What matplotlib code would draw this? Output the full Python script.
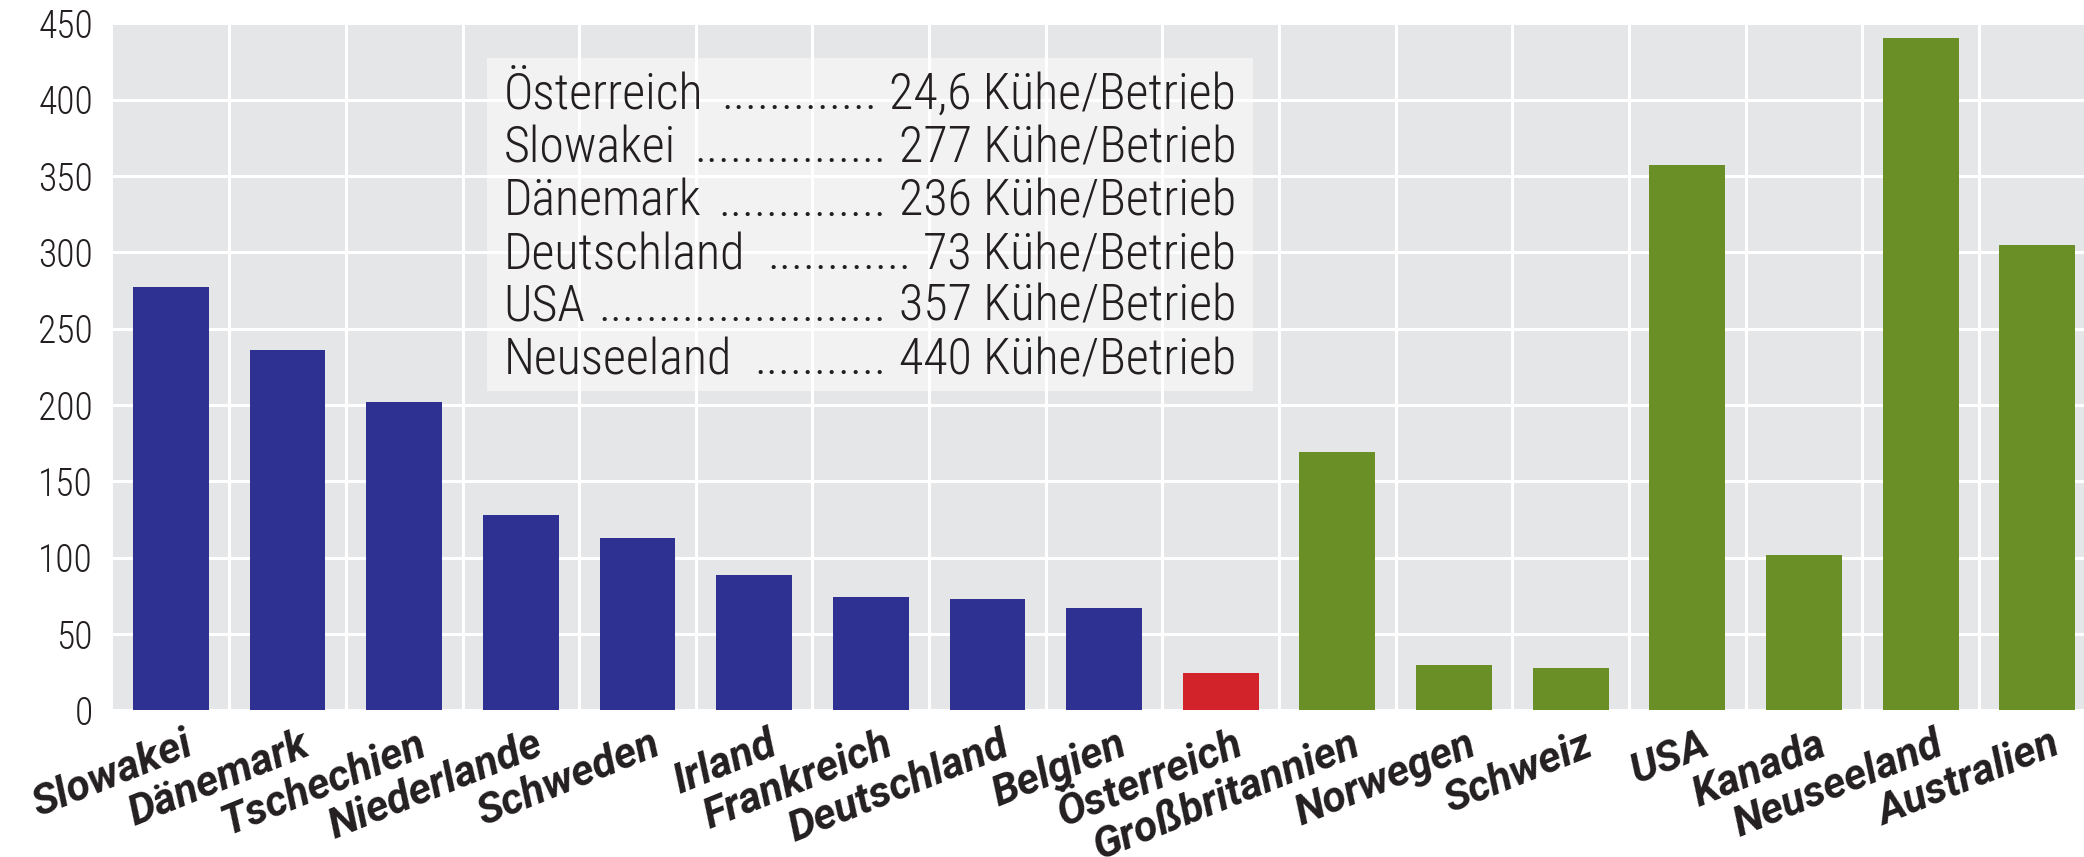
import matplotlib
matplotlib.use("Agg")
import matplotlib.pyplot as plt
from matplotlib.patches import Rectangle
import matplotlib.transforms as mtransforms

countries = ["Slowakei", "Dänemark", "Tschechien", "Niederlande", "Schweden", "Irland",
             "Frankreich", "Deutschland", "Belgien", "Österreich", "Großbritannien",
             "Norwegen", "Schweiz", "USA", "Kanada", "Neuseeland", "Australien"]
values = [277, 236, 202, 128, 113, 89, 74, 73, 67, 24.6, 169, 30, 28, 357, 102, 440, 305]
groups = ["eu"] * 9 + ["at"] + ["other"] * 7
yticks = [0, 50, 100, 150, 200, 250, 300, 350, 400, 450]

note_names = ["Österreich", "Slowakei", "Dänemark", "Deutschland", "USA", "Neuseeland"]
note_values = ["24,6 Kühe/Betrieb", "277 Kühe/Betrieb", "236 Kühe/Betrieb",
               "73 Kühe/Betrieb", "357 Kühe/Betrieb", "440 Kühe/Betrieb"]

colors = {"eu": "#2e3192", "at": "#d2232a", "other": "#6a8f27"}

LIGHT = ["Roboto Condensed", "Open Sans Condensed", "Roboto", "DejaVu Sans"]
BOLD = ["Roboto", "DejaVu Sans"]

fig = plt.figure(figsize=(20.84, 8.57), dpi=100)
ax = fig.add_axes([0.054, 0.171, 0.946, 0.802])
ax.set_facecolor("#e5e6e8")
for s in ax.spines.values():
    s.set_visible(False)

x = list(range(len(countries)))
ax.bar(x, values, width=0.65, color=[colors[g] for g in groups], zorder=3)

ax.set_xlim(-0.5, 16.4)
ax.set_ylim(0, 450)
ax.set_yticks(yticks)
ax.set_yticklabels([str(t) for t in yticks], fontsize=27, family=LIGHT, fontweight="light",
                   color="#231f20")
ax.set_xticks(x)
ax.set_xticks([i + 0.5 for i in range(len(countries) - 1)], minor=True)
ax.grid(True, which="major", axis="y", color="white", linewidth=2.2, zorder=1)
ax.grid(True, which="minor", axis="x", color="white", linewidth=2.2, zorder=1)
ax.tick_params(axis="both", which="both", length=0)
ax.tick_params(axis="y", pad=14)
ax.tick_params(axis="x", pad=10)
ax.set_axisbelow(True)

labels = ax.set_xticklabels(countries, rotation=22, ha="right", rotation_mode="default",
                            fontsize=31, fontweight="bold", fontstyle="italic",
                            family=BOLD, color="#231f20")
offset = mtransforms.ScaledTranslation(0.28, 0, fig.dpi_scale_trans)
for lab in labels:
    lab.set_transform(lab.get_transform() + offset)

# annotation box
ax.add_patch(Rectangle((2.71, 209), 9.28 - 2.71, 427 - 209, facecolor="white",
                       alpha=0.5, edgecolor="none", zorder=2))
ys = [403, 368, 333, 298, 264, 229]
FS = 36
fig.canvas.draw()
renderer = fig.canvas.get_renderer()
probe = ax.text(0, 0, "." * 20, fontsize=FS, family=LIGHT, fontweight="light")
dot_w = probe.get_window_extent(renderer=renderer).width / 20.0
probe.remove()
gap = 12
inv = ax.transData.inverted()
for yy, nm, vl in zip(ys, note_names, note_values):
    tn = ax.text(2.85, yy, nm, fontsize=FS, family=LIGHT, fontweight="light",
                 color="#231f20", va="center", ha="left", zorder=4)
    tv = ax.text(9.13, yy, vl, fontsize=FS, family=LIGHT, fontweight="light",
                 color="#231f20", va="center", ha="right", zorder=4)
    bn = tn.get_window_extent(renderer=renderer)
    bv = tv.get_window_extent(renderer=renderer)
    n = int((bv.x0 - bn.x1 - 2 * gap) / dot_w)
    xr = inv.transform((bv.x0 - gap, 0))[0]
    ax.text(xr, yy, "." * max(n, 0), fontsize=FS, family=LIGHT, fontweight="light",
            color="#231f20", va="center", ha="right", zorder=4)

fig.savefig("out.png", dpi=100, facecolor="white")
